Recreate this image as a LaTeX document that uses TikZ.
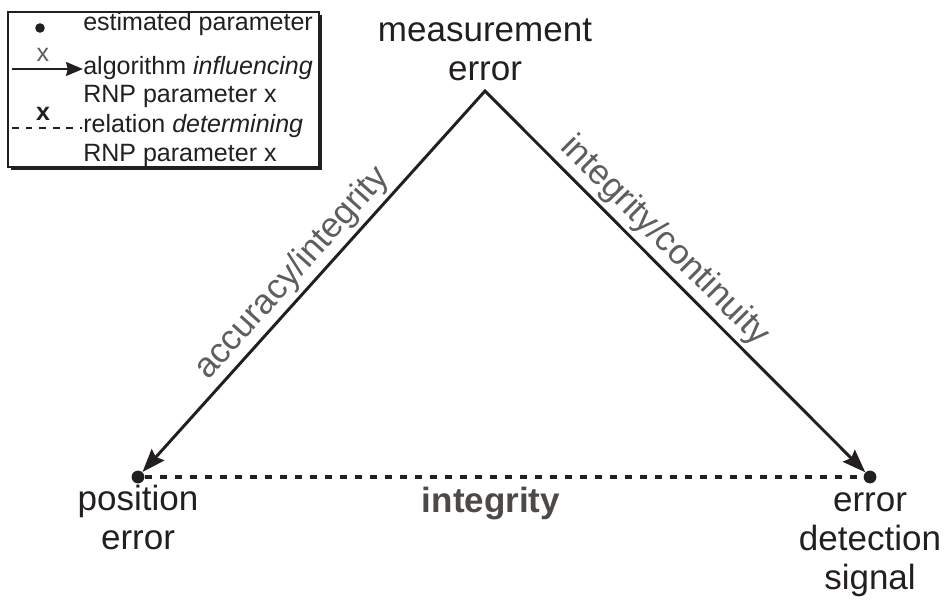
\documentclass[tikz,border=0pt]{standalone}
\usepackage{fontspec}
\setmainfont{Liberation Sans}
\usepackage{tikz}
\usetikzlibrary{arrows.meta}
\usetikzlibrary{positioning}

\definecolor{inkblack}{HTML}{231F20}
\definecolor{labelgray}{HTML}{5E5E5E}
\definecolor{boldgray}{HTML}{4D4946}

\begin{document}
\begin{tikzpicture}[x=0.025cm, y=0.025cm,
  bigtext/.style={font=\fontsize{24.9}{27.7}\selectfont, text=inkblack, inner sep=0pt, align=center},
  edgetext/.style={font=\fontsize{24.9}{27.7}\selectfont, text=labelgray, inner sep=2.5pt},
  legtext/.style={font=\fontsize{17.8}{20}\selectfont, text=inkblack, inner sep=0pt, anchor=base west},
  estdot/.style={circle, fill=inkblack, inner sep=0pt, minimum size=0.32cm},
  legdot/.style={circle, fill=inkblack, inner sep=0pt, minimum size=0.24cm},
  relarrow/.style={draw=inkblack, line width=2.1pt, line join=miter,
    {Stealth[length=0.58cm, width=0.42cm, inset=0.08cm]}-{Stealth[length=0.58cm, width=0.42cm, inset=0.08cm]}},
  relline/.style={draw=inkblack, line width=2.6pt, dash pattern=on 0.175cm off 0.2cm},
  legarrow/.style={draw=inkblack, line width=2pt, -{Stealth[length=0.42cm, width=0.34cm, inset=0.04cm]}},
  legline/.style={draw=inkblack, line width=2pt, dash pattern=on 0.17cm off 0.17cm}]

\useasboundingbox (0,0) rectangle (946,599);

% legend
\fill[inkblack] (11,429) rectangle (322,584);
\draw[inkblack, fill=white, line width=1pt] (8,432) rectangle (319,587);
\node[legdot] (legest) at (40,571) {};
\node[legtext] (legesttext) at (83,568) {estimated parameter};
\coordinate (legalgA) at (12,530);
\coordinate (legalgB) at (83,530);
\draw[legarrow] (legalgA) -- (legalgB);
\node[legtext, anchor=base, text=labelgray] (legalgx) at (43,537) {x};
\node[legtext] (legalgtext) at (83,524) {algorithm \textit{influencing}};
\node[legtext] (legalgrnp) at (83,496) {RNP parameter x};
\coordinate (legrelA) at (12,471);
\coordinate (legrelB) at (82,471);
\draw[legline] (legrelA) -- (legrelB);
\node[legtext, anchor=base, font=\fontsize{17.8}{20}\selectfont\bfseries] (legrelx) at (43,478) {x};
\node[legtext] (legreltext) at (83,466) {relation \textit{determining}};
\node[legtext] (legrelrnp) at (83,437) {RNP parameter x};

% triangle
\coordinate (apex) at (485,508);
\node[estdot] (posdot) at (138,122) {};
\node[estdot] (detdot) at (870,122) {};
\node[bigtext, above=0.24cm of apex] (meas) {measurement\\error};
\node[bigtext, below=0.04cm of posdot] (pos) {position\\error};
\node[bigtext, below=0.21cm of detdot] (det) {error\\detection\\signal};
\draw[relarrow] (posdot) -- node[edgetext, pos=0.484, sloped, above] (acclabel) {accuracy/integrity}
  (apex) -- node[edgetext, pos=0.433, sloped, above] (contlabel) {integrity/continuity} (detdot);
\draw[relline] (posdot) -- (detdot);
\node[anchor=base, inner sep=0pt, text=boldgray, font=\fontsize{24.9}{27.7}\selectfont\bfseries] (integ) at (491,87) {integrity};
\end{tikzpicture}
\end{document}
